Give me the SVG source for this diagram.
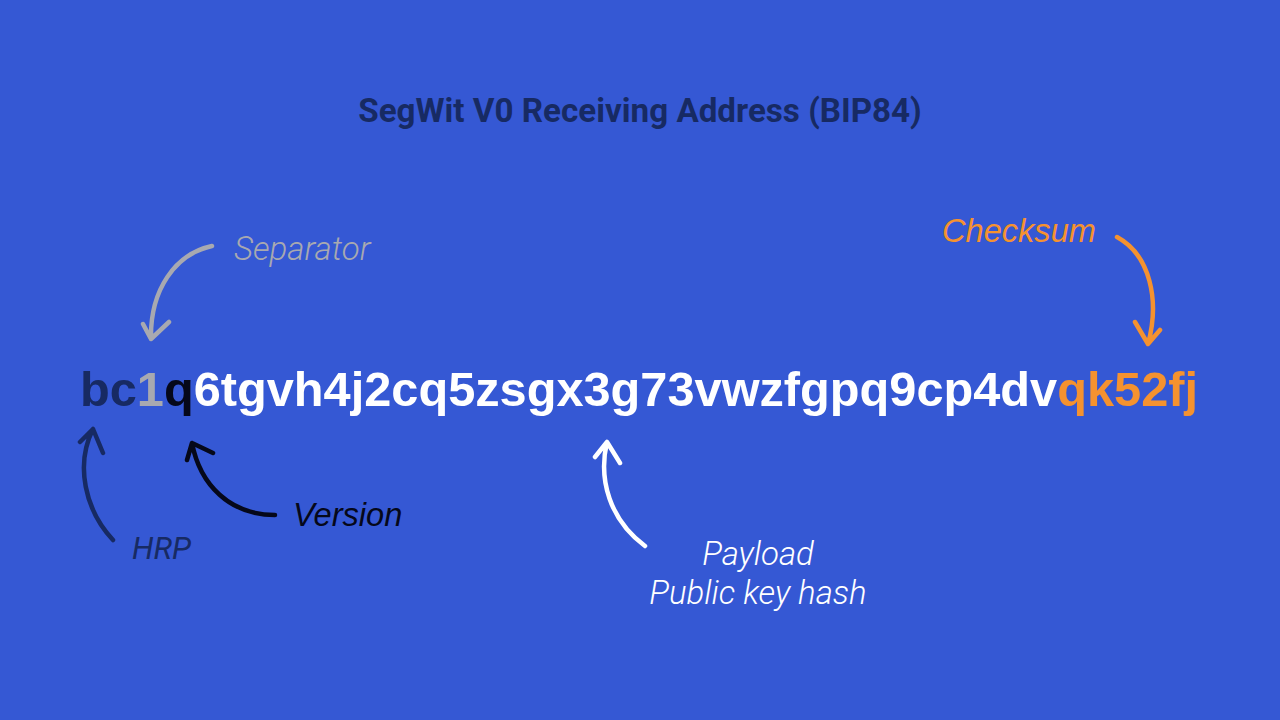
<svg xmlns="http://www.w3.org/2000/svg" width="1280" height="720" viewBox="0 0 1280 720">
<style>
.title{font-family:Roboto,"Liberation Sans",sans-serif;font-weight:700;font-size:33.2px;fill:#172a63}
.addr{font-family:"Liberation Sans",Arial,sans-serif;font-weight:700;font-size:49px}
.lbl{font-family:Roboto,"Liberation Sans",sans-serif;font-style:italic;font-weight:300;font-size:33px}
.lbl2{font-family:"Liberation Sans",Arial,sans-serif;font-style:italic;font-size:32.6px}
.arr{fill:none;stroke-width:4.5;stroke-linecap:round;stroke-linejoin:round}
</style>
<rect width="1280" height="720" fill="#3558d4"/>
<g id="title"><text class="title" x="640" y="122" text-anchor="middle">SegWit V0 Receiving Address (BIP84)</text></g>
<g id="address"><text class="addr" x="80" y="406" textLength="1118" lengthAdjust="spacingAndGlyphs"><tspan fill="#172a63">bc</tspan><tspan fill="#a8a9b0">1</tspan><tspan fill="#05081a">q</tspan><tspan fill="#ffffff">6tgvh4j2cq5zsgx3g73vwzfgpq9cp4dv</tspan><tspan fill="#f5922f">qk52fj</tspan></text></g>
<g id="separator"><text class="lbl" x="234" y="260" fill="#a8a9b0">Separator</text></g>
<g id="checksum"><text class="lbl2" x="942" y="242" fill="#f5922f">Checksum</text></g>
<g id="version"><text class="lbl2" x="293" y="526" fill="#05081a">Version</text></g>
<g id="hrp"><text class="lbl" x="132" y="559" fill="#172a63" style="font-weight:400;font-size:31px">HRP</text></g>
<g id="payload"><text class="lbl" x="758" y="565" fill="#ffffff" text-anchor="middle">Payload</text><text class="lbl" x="758" y="604" fill="#ffffff" text-anchor="middle">Public key hash</text></g>
<g id="connectors">
<path class="arr" stroke="#a8a9b0" d="M212,246 C175,254 150,290 151,339 M143,324 L151,339 L169,322"/>
<path class="arr" stroke="#f5922f" d="M1117,237 C1150,255 1160,300 1148,344 M1135,322 L1148,344 L1160,330"/>
<path class="arr" stroke="#172a63" d="M113,540 C85,510 75,465 93,429 M80,442 L93,429 L103,453"/>
<path class="arr" stroke="#05081a" d="M275,515 C230,515 200,485 192,443 M187,460 L192,443 L213,453"/>
<path class="arr" stroke="#ffffff" d="M645,546 C610,520 598,480 607,442 M595,457 L607,442 L620,463"/>
</g>
</svg>
